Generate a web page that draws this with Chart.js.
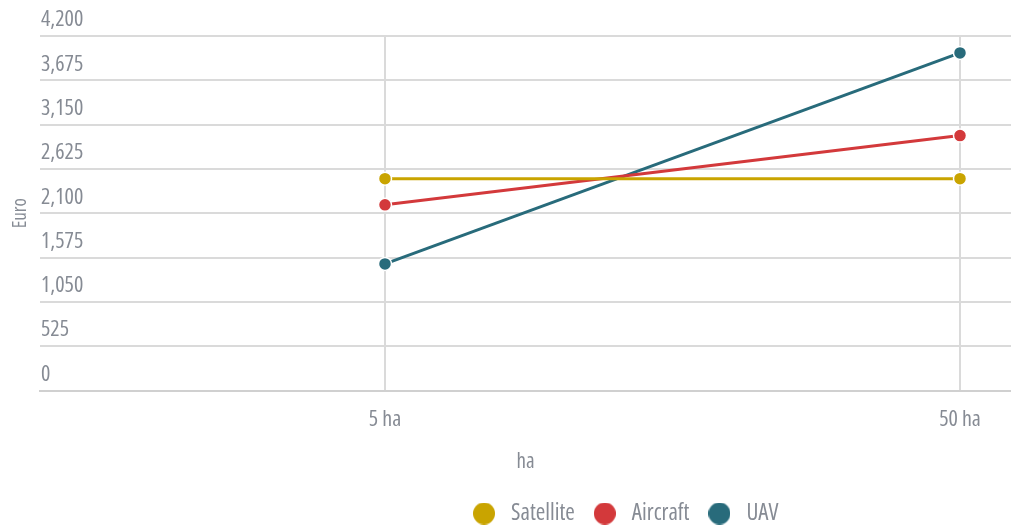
<!DOCTYPE html>
<html>
<head>
<meta charset="utf-8">
<script src="https://cdn.jsdelivr.net/npm/chart.js@4.4.1/dist/chart.umd.min.js"></script>
<style>
  html, body { margin: 0; padding: 0; background: #ffffff; }
  #wrap { width: 1011px; height: 526px; position: relative; }
</style>
</head>
<body>
<div id="wrap"><canvas id="chart" width="1011" height="526"></canvas></div>
<script>
// Cost per survey area, by imaging platform
const categories = ['5 ha', '50 ha'];
const satellite = [2510, 2510];
const aircraft = [2200, 3020];
const uav = [1500, 4000];
const yTickValues = [0, 525, 1050, 1575, 2100, 2625, 3150, 3675, 4200];

const FAMILY = "'Open Sans', sans-serif";
// 'condensed' goes into the font shorthand as font-stretch
const font = (size) => ({ family: FAMILY, size: size, weight: 'condensed' });
const TEXT = '#868b94';
const GRID = '#dadada';

const toPoints = (arr) => arr.map((v, i) => ({ x: i, y: v }));

const series = [
  { label: 'Satellite', values: satellite, color: '#c9a400' },
  { label: 'Aircraft', values: aircraft, color: '#d3393b' },
  { label: 'UAV', values: uav, color: '#286b7b' }
];

// round legend markers, drawn once on small canvases
const legendDot = (color) => {
  const c = document.createElement('canvas');
  c.width = 22; c.height = 22;
  const g = c.getContext('2d');
  g.fillStyle = color;
  g.beginPath();
  g.arc(11, 11, 11, 0, Math.PI * 2);
  g.fill();
  return c;
};
const legendDots = series.map(s => legendDot(s.color));

// moves the legend row sideways after layout
const legendOffset = {
  id: 'legendOffset',
  afterLayout(chart, args, opts) {
    const lg = chart.legend;
    if (lg) { lg.left += opts.dx; lg.right += opts.dx; }
  }
};

new Chart(document.getElementById('chart'), {
  type: 'line',
  plugins: [legendOffset],
  data: {
    datasets: series.map(s => ({
      label: s.label,
      data: toPoints(s.values),
      borderColor: s.color,
      backgroundColor: s.color,
      pointBackgroundColor: s.color,
      pointBorderColor: '#ffffff',
      pointBorderWidth: 1.5,
      pointRadius: 6.5,
      pointHoverRadius: 6.5,
      borderWidth: 3,
      tension: 0,
      fill: false
    }))
  },
  options: {
    responsive: false,
    animation: false,
    events: [],
    layout: { autoPadding: false, padding: { top: 36, right: 0, left: 0, bottom: -9 } },
    scales: {
      x: {
        type: 'linear',
        min: -0.6,
        max: 1.0887,
        afterBuildTicks: (scale) => {
          scale.ticks = categories.map((_, i) => ({ value: i }));
        },
        afterFit: (scale) => {
          scale.height = 97;
          scale.paddingLeft = 0;
          scale.paddingRight = 0;
        },
        ticks: {
          callback: (v) => categories[v],
          font: font(22),
          color: TEXT,
          padding: 16,
          maxRotation: 0
        },
        grid: { color: GRID, lineWidth: 2, drawTicks: false },
        border: { display: true, color: '#d0d0d0', width: 2 },
        title: {
          display: true,
          text: 'ha',
          font: font(21),
          color: TEXT,
          padding: { top: 0, bottom: 13 }
        }
      },
      y: {
        min: 0,
        max: 4200,
        afterBuildTicks: (scale) => {
          scale.ticks = yTickValues.map(v => ({ value: v }));
        },
        afterFit: (scale) => {
          scale.width = 40;
          scale.paddingTop = 0;
          scale.paddingBottom = 0;
        },
        ticks: {
          mirror: true,
          padding: 1,
          labelOffset: -16,
          callback: (v) => v.toLocaleString('en-US'),
          font: font(22),
          color: TEXT
        },
        grid: { color: GRID, lineWidth: 2, drawTicks: false },
        border: { display: false },
        title: {
          display: true,
          text: 'Euro',
          font: font(19),
          color: TEXT,
          padding: { top: 9, bottom: 0 }
        }
      }
    },
    plugins: {
      tooltip: { enabled: false },
      legendOffset: { dx: 118 },
      legend: {
        position: 'bottom',
        labels: {
          usePointStyle: true,
          pointStyleWidth: 31,
          boxHeight: 22,
          padding: 14.5,
          font: font(23),
          color: TEXT,
          generateLabels: (chart) =>
            Chart.defaults.plugins.legend.labels.generateLabels(chart)
              .map((item, i) => Object.assign(item, { pointStyle: legendDots[i] }))
        }
      }
    }
  }
});
</script>
</body>
</html>
